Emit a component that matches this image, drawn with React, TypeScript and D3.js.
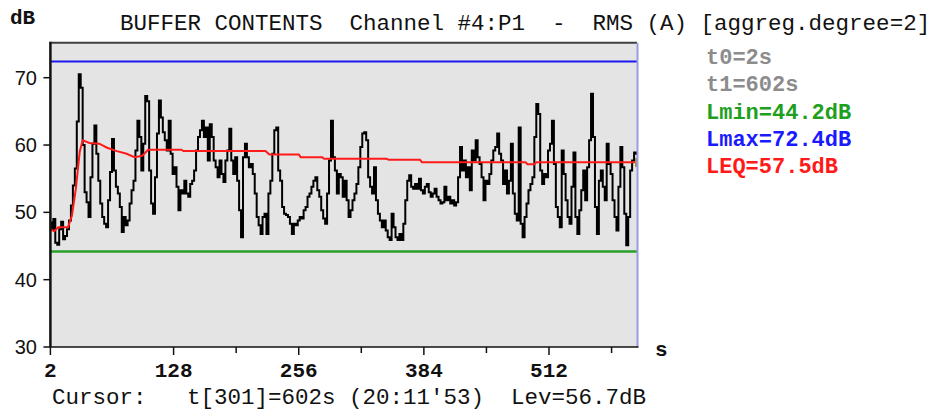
import React from "react";
import * as d3 from "d3";

// ---- data ----
const levels: number[] = [
  48.5, 47.5, 49.0, 45.5, 45.2, 47.5, 48.6, 46.0, 46.5, 47.5,
  48.8, 51.0, 54.0, 56.5, 63.5, 70.5, 68.5, 60.0, 53.0, 51.5,
  49.3, 55.2, 60.2, 62.9, 58.7, 54.7, 51.3, 49.3, 48.3, 47.8,
  51.8, 56.0, 60.9, 56.2, 53.8, 52.8, 50.8, 47.1, 49.3, 48.1,
  48.8, 51.3, 53.3, 54.7, 59.2, 63.6, 61.2, 56.2, 60.2, 67.3,
  66.5,
  56.2, 51.3, 49.8, 55.2, 61.7, 66.6, 64.1, 61.9, 60.7, 59.2,
  63.6, 58.7, 55.7, 56.7, 53.8, 50.3, 53.3, 52.8, 54.7, 52.8,
  52.3, 54.2, 54.7, 56.2, 59.2, 61.2, 62.2, 63.6, 61.2, 62.6,
  57.7, 63.1, 61.2, 57.7, 56.7, 55.2, 57.7, 55.7, 54.5, 57.7,
  59.2, 62.4, 57.7, 55.7, 58.2, 54.7, 50.3, 46.3, 58.2, 60.2,
  58.2, 56.7, 57.2, 55.7, 52.8, 49.3, 48.1, 46.8, 49.3, 49.8,
  46.8, 52.8, 54.7, 58.7, 62.2, 62.6, 56.2, 54.7, 50.8, 49.8,
  49.6, 49.3, 48.3, 46.8, 48.3, 48.1, 48.8, 49.3, 49.1, 50.3,
  50.8, 52.3, 52.8, 53.8, 54.7, 55.2, 53.3, 52.3, 50.3, 49.1,
  48.3, 52.8, 57.7, 63.6, 58.2, 56.2, 52.8, 55.7, 55.2, 52.3,
  54.7, 51.8, 49.3, 50.3, 51.8, 52.8, 54.2, 56.7, 59.7, 61.7,
  61.9, 60.7, 55.2, 53.8, 52.8, 56.7, 51.8, 49.8, 48.8, 47.8,
  48.8, 47.3, 46.3, 45.9, 49.8, 47.8, 46.3, 45.9, 46.8, 45.9,
  48.3, 51.8, 54.7, 55.5, 53.8, 53.5, 54.2, 53.5, 55.0, 53.3,
  52.8, 53.8, 54.2, 53.0, 52.3, 52.8, 53.5, 52.3, 51.8, 51.3,
  51.5, 53.8, 51.8, 52.3, 51.3, 51.8, 51.0, 51.5, 55.2, 59.7,
  56.2, 57.7, 55.2, 56.7, 53.3, 59.2, 57.7, 60.7, 58.2, 57.2,
  55.2, 51.8, 54.7, 54.2, 55.7, 57.7, 59.2, 59.7, 61.7, 58.7,
  57.7, 54.2, 56.2, 52.8, 54.7, 60.2, 52.8, 49.8, 48.8, 62.6,
  48.3, 46.3, 49.3, 51.3, 53.3, 54.2, 55.2, 61.2, 66.1, 64.6,
  56.2, 54.2, 55.7, 55.2, 59.2, 60.2, 63.6, 57.2, 50.8, 49.3,
  47.8, 59.2, 55.7, 51.8, 49.3, 48.3, 53.8, 58.9, 49.3, 46.8,
  50.3, 53.3, 56.2, 51.8, 56.7, 60.7, 67.6, 61.2, 50.8, 46.8,
  54.7, 56.2, 53.8, 51.8, 60.2, 57.2, 55.7, 51.8, 49.3, 47.3,
  53.8, 59.7, 56.7, 49.8, 45.1, 49.3, 56.2, 57.7, 58.9, 58.7,
];
const T0 = 2;
const STEP = 2;

const leqTimes: number[] = [2, 6, 10, 20, 24, 28, 32, 35, 42, 52, 60, 70, 80, 88, 96, 102, 136, 138, 222, 226, 256, 258, 280, 282, 346, 348, 380, 382, 488, 490, 497, 499, 602];
const leqValues: number[] = [47.5, 47.2, 47.8, 47.8, 49.5, 53.5, 59.0, 60.7, 60.3, 60.2, 59.6, 59.1, 58.7, 58.2, 58.4, 59.3, 59.3, 59.1, 59.1, 58.6, 58.6, 58.2, 58.2, 57.95, 57.95, 57.8, 57.8, 57.45, 57.45, 57.15, 57.15, 57.45, 57.45];

const LMIN = 44.2;
const LMAX = 72.4;
const LEQ = 57.5;

const yTicks: number[] = [30, 40, 50, 60, 70];
const xMajorTicks: number[] = [2, 128, 256, 384, 512];
const xMinorTicks: number[] = [192, 320, 448, 576];

const titleText = "BUFFER CONTENTS  Channel #4:P1  -  RMS (A) [aggreg.degree=2]";
const legendLines: { text: string; color: string }[] = [
  { text: "t0=2s", color: "#8c8c8c" },
  { text: "t1=602s", color: "#8c8c8c" },
  { text: `Lmin=${LMIN.toFixed(1)}dB`, color: "#1ea01e" },
  { text: `Lmax=${LMAX.toFixed(1)}dB`, color: "#1a1aff" },
  { text: `LEQ=${LEQ.toFixed(1)}dB`, color: "#ff1a1a" },
];
const cursorText = "Cursor:   t[301]=602s (20:11'53)  Lev=56.7dB";

const W = 938;
const H = 410;
const MONO = "'Liberation Mono', 'DejaVu Sans Mono', monospace";
const SANS = "'Liberation Sans', Arial, sans-serif";

export default function App() {
  const left = 50.4, right = 637, top = 42.7, bottom = 347;
  const x = d3.scaleLinear().domain([2, 602]).range([left, right]);
  const y = d3.scaleLinear().domain([30, 75.2]).range([bottom, top]);

  const pts = levels.map((v, i) => [T0 + i * STEP, v] as [number, number]);
  const line = d3
    .line<[number, number]>()
    .x((d) => x(d[0]))
    .y((d) => y(d[1]))
    .curve(d3.curveStep);
  const leqLine = d3
    .line<number>()
    .x((_, i) => x(leqTimes[i]))
    .y((d) => y(d));

  return (
    <div style={{ position: "absolute", left: 0, top: 0, width: W, height: H, background: "#fff" }}>
      <svg width={W} height={H} style={{ display: "block" }}>
        <rect x={0} y={0} width={W} height={H} fill="#fff" />
        {/* plot background */}
        <rect x={left} y={top} width={right - left} height={bottom - top} fill="#e4e4e4" />
        {/* Lmax / Lmin */}
        <line x1={left} x2={right} y1={y(LMAX)} y2={y(LMAX)} stroke="#1a1aee" strokeWidth={2} />
        <line x1={left} x2={right} y1={y(LMIN)} y2={y(LMIN)} stroke="#2aa02a" strokeWidth={2.5} />
        {/* level trace */}
        <path d={line(pts) ?? ""} fill="none" stroke="#000" strokeWidth={2} strokeLinejoin="miter" />
        {/* running LEQ */}
        <path d={leqLine(leqValues) ?? ""} fill="none" stroke="#ff1a1a" strokeWidth={2} />
        {/* cursor marker */}
        <rect x={right - 2} y={y(LEQ) - 4} width={3} height={9} fill="#9a9440" />
        {/* borders */}
        <line x1={left} x2={right} y1={top} y2={top} stroke="#404040" strokeWidth={2} />
        <line x1={right + 0.5} x2={right + 0.5} y1={top} y2={bottom} stroke="#9c9ce6" strokeWidth={2} />
        <line x1={left} x2={left} y1={top - 1} y2={bottom} stroke="#111" strokeWidth={2.5} />
        <line x1={left} x2={right + 1.5} y1={bottom} y2={bottom} stroke="#111" strokeWidth={1.5} />
        {/* y ticks */}
        {yTicks.map((t) => (
          <g key={`y${t}`}>
            <line x1={left - 7} x2={left} y1={y(t)} y2={y(t)} stroke="#111" strokeWidth={1.5} />
            <text x={37} y={y(t) + 7} textAnchor="end" fontFamily={SANS} fontSize={20} fill="#111">
              {t}
            </text>
          </g>
        ))}
        {/* x ticks */}
        {xMajorTicks.map((t) => (
          <g key={`x${t}`}>
            <line x1={x(t)} x2={x(t)} y1={bottom} y2={bottom + 8} stroke="#111" strokeWidth={1.5} />
            <text x={x(t)} y={bottom + 30} textAnchor="middle" fontFamily={MONO} fontSize={21} fontWeight="bold" fill="#111">
              {t}
            </text>
          </g>
        ))}
        {xMinorTicks.map((t) => (
          <line key={`m${t}`} x1={x(t)} x2={x(t)} y1={bottom} y2={bottom + 6} stroke="#111" strokeWidth={1.5} />
        ))}
        {/* labels */}
        <text x={10} y={24} fontFamily={MONO} fontSize={21} fontWeight="bold" fill="#111">dB</text>
        <text x={655} y={356} fontFamily={MONO} fontSize={21} fontWeight="bold" fill="#111">s</text>
        <text x={120} y={30} fontFamily={MONO} fontSize={22.5} fill="#111" xmlSpace="preserve" style={{ whiteSpace: "pre" }}>
          {titleText}
        </text>
        {legendLines.map((l, i) => (
          <text key={l.text} x={706} y={64 + i * 27.3} fontFamily={MONO} fontSize={22} fontWeight="bold" fill={l.color}>
            {l.text}
          </text>
        ))}
        <text x={52} y={404} fontFamily={MONO} fontSize={22.5} fill="#111" xmlSpace="preserve" style={{ whiteSpace: "pre" }}>
          {cursorText}
        </text>
      </svg>
    </div>
  );
}
